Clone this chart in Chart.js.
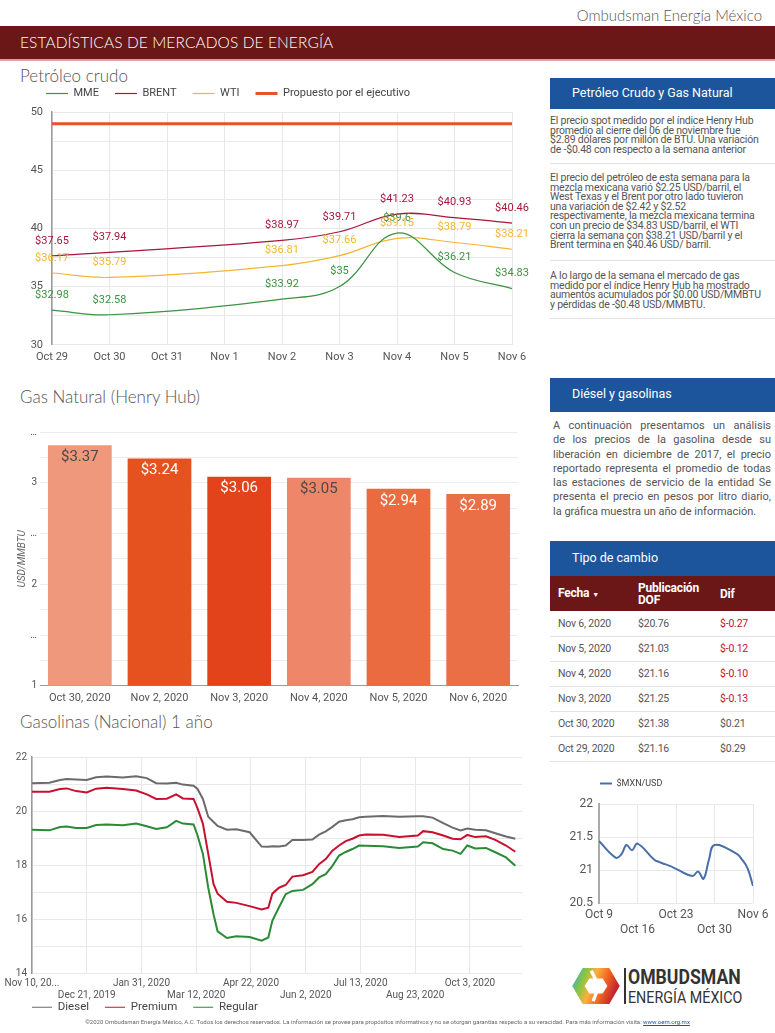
<!DOCTYPE html>
<html lang="es">
<head>
<meta charset="utf-8">
<title>Estadísticas de Mercados de Energía</title>
<script src="https://cdn.jsdelivr.net/npm/chart.js@4.4.1/dist/chart.umd.min.js"></script>
<style>
  * { box-sizing: border-box; }
  body { margin: 0; width: 775px; height: 1033px; position: relative; overflow: hidden; background: #fff; font-family: Roboto, "Noto Sans", sans-serif; color: #444; }
  .abs { position: absolute; }
  .brand { right: 13px; top: 6px; font: 300 15px Lato, "Open Sans", sans-serif; color: #555; white-space: nowrap; }
  .band { left: 0; top: 26px; width: 775px; height: 35px; background: #6b1717; border-bottom: 2px solid #d8a3a3; }
  .band span { position: absolute; left: 20px; top: 7px; color: #fff; font: 300 15.5px Lato, sans-serif; letter-spacing: 0.1px; }
  .section { left: 20px; font: 300 17px/20px Lato, sans-serif; color: #555; white-space: nowrap; }
  .box { left: 550px; width: 225px; background: #1c559b; color: #fff; font-size: 12.5px; line-height: 15px; padding-left: 22px; }
  .note { left: 550px; width: 225px; font-size: 10.5px; line-height: 9.6px; color: #555; white-space: nowrap; letter-spacing: -0.2px; }
  .rule { left: 550px; width: 225px; height: 1px; background: #e3e3e3; }
  .just { left: 553px; width: 218px; font-size: 11px; line-height: 14.3px; color: #555; }
  .just div { text-align: justify; text-align-last: justify; white-space: nowrap; }
  .just div.last { text-align-last: left; }
  table { border-collapse: collapse; }
  .fx { left: 550px; top: 576px; width: 225px; font-size: 10.5px; color: #555; letter-spacing: -0.2px; }
  .fx th { background: #6b1717; color: #fff; text-align: left; font-size: 12px; line-height: 12px; height: 35px; padding: 0 0 0 8px; font-weight: bold; }
  .fx td { height: 25px; padding: 0 0 0 8px; border-bottom: 1px solid #e3e3e3; }
  .fx td.neg { color: #c8102e; }
  .wrap { position: absolute; }
  .logo1 { left: 628px; top: 966px; font: bold 21px/22px Roboto, sans-serif; color: #333; transform: scaleX(0.84); transform-origin: left; white-space: nowrap; }
  .logo2 { left: 628px; top: 988px; font: 17px/18px Roboto, sans-serif; color: #333; transform: scaleX(0.84); transform-origin: left; white-space: nowrap; }
  .footer { left: 0; top: 1018px; width: 775px; text-align: center; font-size: 6px; color: #666; white-space: nowrap; }
  .footer a { color: #1c559b; }
</style>
</head>
<body>

<div class="abs brand">Ombudsman Energía México</div>
<div class="abs band"><span>ESTADÍSTICAS DE MERCADOS DE ENERGÍA</span></div>

<div class="abs section" style="top:66px">Petróleo crudo</div>
<div class="wrap" style="left:12px; top:72px; width:520px; height:298px"><canvas id="crudeChart"></canvas></div>

<div class="abs section" style="top:387px">Gas Natural (Henry Hub)</div>
<div class="wrap" style="left:10px; top:420px; width:515px; height:291px"><canvas id="gasChart"></canvas></div>

<div class="abs section" style="top:712px">Gasolinas (Nacional) 1 año</div>
<div class="wrap" style="left:5px; top:745px; width:525px; height:278px"><canvas id="fuelChart"></canvas></div>

<div class="abs box" style="top:78px; height:31px; padding-top:7px">Petróleo Crudo y Gas Natural</div>
<div class="abs note" style="top:116px">El precio spot medido por el índice Henry Hub<br>promedio al cierre del 06 de noviembre fue<br>$2.89 dólares por millón de BTU. Una variación<br>de -$0.48 con respecto a la semana anterior</div>
<div class="abs rule" style="top:163px"></div>
<div class="abs note" style="top:173px">El precio del petróleo de esta semana para la<br>mezcla mexicana varió $2.25 USD/barril, el<br>West Texas y el Brent por otro lado tuvieron<br>una variación de $2.42 y $2.52<br>respectivamente, la mezcla mexicana termina<br>con un precio de $34.83 USD/barril, el WTI<br>cierra la semana con $38.21 USD/barril y el<br>Brent termina en $40.46 USD/ barril.</div>
<div class="abs rule" style="top:260px"></div>
<div class="abs note" style="top:271px">A lo largo de la semana el mercado de gas<br>medido por el índice Henry Hub ha mostrado<br>aumentos acumulados por $0.00 USD/MMBTU<br>y pérdidas de -$0.48 USD/MMBTU.</div>
<div class="abs rule" style="top:318px"></div>

<div class="abs box" style="top:378px; height:34px; padding-top:8px">Diésel y gasolinas</div>
<div class="abs just" style="top:419px">
  <div>A continuación presentamos un análisis</div>
  <div>de los precios de la gasolina desde su</div>
  <div>liberación en diciembre de 2017, el precio</div>
  <div>reportado representa el promedio de todas</div>
  <div>las estaciones de servicio de la entidad Se</div>
  <div>presenta el precio en pesos por litro diario,</div>
  <div class="last">la gráfica muestra un año de información.</div>
</div>

<div class="abs box" style="top:541px; height:35px; padding-top:9px">Tipo de cambio</div>
<table class="abs fx">
  <tr><th style="width:80px">Fecha <span style="font-size:7px">▼</span></th><th style="width:82px">Publicación<br>DOF</th><th>Dif</th></tr>
  <tr><td>Nov 6, 2020</td><td>$20.76</td><td class="neg">$-0.27</td></tr>
  <tr><td>Nov 5, 2020</td><td>$21.03</td><td class="neg">$-0.12</td></tr>
  <tr><td>Nov 4, 2020</td><td>$21.16</td><td class="neg">$-0.10</td></tr>
  <tr><td>Nov 3, 2020</td><td>$21.25</td><td class="neg">$-0.13</td></tr>
  <tr><td>Oct 30, 2020</td><td>$21.38</td><td>$0.21</td></tr>
  <tr><td>Oct 29, 2020</td><td>$21.16</td><td>$0.29</td></tr>
</table>

<div class="wrap" style="left:560px; top:748px; width:215px; height:194px"><canvas id="fxChart"></canvas></div>

<svg class="abs" style="left:571px; top:967px" width="50" height="38" viewBox="0 0 52 40">
  <defs>
    <linearGradient id="logoGrad" x1="0" y1="0" x2="1" y2="0.3">
      <stop offset="0" stop-color="#29a9e0"/>
      <stop offset="0.3" stop-color="#8cc63f"/>
      <stop offset="0.5" stop-color="#fbb040"/>
      <stop offset="0.75" stop-color="#f26522"/>
      <stop offset="1" stop-color="#c1272d"/>
    </linearGradient>
  </defs>
  <polygon points="12,1 40,1 51,20 40,39 12,39 1,20" fill="url(#logoGrad)"/>
  <polygon points="19,12 33,12 38,20 33,28 19,28 14,20" fill="#fff"/>
  <path d="M21 4 L29 20 L23 36" stroke="#fff" stroke-width="3.5" fill="none"/>
</svg>
<div class="abs" style="left:624px; top:968px; width:2px; height:36px; background:#333"></div>
<div class="abs logo1">OMBUDSMAN</div>
<div class="abs logo2">ENERGÍA MÉXICO</div>

<div class="abs footer">©2020 Ombudsman Energía México, A.C. Todos los derechos reservados. La información se provee para propósitos informativos y no se otorgan garantías respecto a su veracidad. Para más información visita: <a href="#">www.oem.org.mx</a></div>

<script>
Chart.defaults.font.family = "Roboto";
Chart.defaults.color = "#555";
Chart.defaults.animation = false;
Chart.defaults.maintainAspectRatio = false;
Chart.defaults.plugins.tooltip.enabled = false;

// Petróleo crudo, USD/barril (weekend days have no quote)
const crudeLabels = ["Oct 29", "Oct 30", "Oct 31", "Nov 1", "Nov 2", "Nov 3", "Nov 4", "Nov 5", "Nov 6"];
const mmeValues = [32.98, 32.58, null, null, 33.92, 35, 39.6, 36.21, 34.83];
const brentValues = [37.65, 37.94, null, null, 38.97, 39.71, 41.23, 40.93, 40.46];
const wtiValues = [36.17, 35.79, null, null, 36.81, 37.66, 39.15, 38.79, 38.21];
const proposedValues = [49, 49, 49, 49, 49, 49, 49, 49, 49];

// Gas natural Henry Hub, USD/MMBTU
const gasLabels = ["Oct 30, 2020", "Nov 2, 2020", "Nov 3, 2020", "Nov 4, 2020", "Nov 5, 2020", "Nov 6, 2020"];
const gasValues = [3.37, 3.24, 3.06, 3.05, 2.94, 2.89];
const gasColors = ["#f0987c", "#e5521f", "#e2431a", "#ee876a", "#ea6b40", "#eb6f46"];
const gasTextColors = ["#4a4a4a", "#ffffff", "#ffffff", "#4a4a4a", "#ffffff", "#ffffff"];

// Gasolinas nacional, pesos/litro; x = days since Nov 10, 2019
const fuelDays = [0, 13, 21, 26, 33, 41, 48, 56, 68, 78, 86, 93, 101, 108, 113, 121, 124, 128, 132, 136, 139, 146, 153, 163, 172, 177, 180, 185, 190, 195, 203, 210, 215, 220, 225, 230, 235, 240, 245, 250, 263, 275, 289, 293, 300, 308, 315, 321, 326, 332, 340, 347, 355, 362];
const dieselValues = [21.03, 21.05, 21.15, 21.19, 21.17, 21.15, 21.25, 21.28, 21.24, 21.29, 21.22, 21.03, 21.02, 21.05, 20.98, 20.94, 20.82, 20.45, 19.79, 19.6, 19.45, 19.31, 19.33, 19.22, 18.69, 18.68, 18.70, 18.69, 18.73, 18.93, 18.93, 18.95, 19.13, 19.25, 19.42, 19.61, 19.66, 19.70, 19.77, 19.79, 19.82, 19.79, 19.81, 19.81, 19.76, 19.56, 19.39, 19.29, 19.36, 19.31, 19.29, 19.18, 19.06, 18.98];
const premiumValues = [20.72, 20.72, 20.82, 20.84, 20.74, 20.69, 20.83, 20.86, 20.82, 20.76, 20.62, 20.45, 20.46, 20.62, 20.47, 20.45, 20.10, 19.54, 18.42, 17.30, 16.95, 16.65, 16.61, 16.49, 16.37, 16.43, 16.95, 17.17, 17.27, 17.58, 17.63, 17.75, 18.04, 18.23, 18.54, 18.73, 18.89, 18.98, 19.10, 19.14, 19.13, 19.04, 19.10, 19.26, 19.22, 19.10, 18.98, 18.96, 19.12, 19.04, 19.07, 18.94, 18.73, 18.50];
const regularValues = [19.31, 19.29, 19.41, 19.43, 19.38, 19.38, 19.49, 19.51, 19.48, 19.54, 19.44, 19.34, 19.40, 19.64, 19.54, 19.51, 19.10, 18.42, 17.17, 16.18, 15.56, 15.31, 15.38, 15.35, 15.21, 15.33, 15.95, 16.45, 16.93, 17.05, 17.09, 17.30, 17.55, 17.67, 17.98, 18.36, 18.49, 18.60, 18.73, 18.72, 18.70, 18.64, 18.69, 18.85, 18.81, 18.60, 18.54, 18.42, 18.73, 18.62, 18.64, 18.48, 18.29, 17.98];
const fuelTickDays = [0, 41, 82, 123, 164, 205, 246, 287, 328];
const fuelTickLabels = ["Nov 10, 20...", "Dec 21, 2019", "Jan 31, 2020", "Mar 12, 2020", "Apr 22, 2020", "Jun 2, 2020", "Jul 13, 2020", "Aug 23, 2020", "Oct 3, 2020"];

// Tipo de cambio $MXN/USD; x = days since Oct 9, 2020
const fxDays = [0, 3, 4, 5, 6, 7, 10, 11, 12, 13, 14, 17, 18, 19, 20, 21, 25, 26, 27, 28];
const fxValues = [21.44, 21.19, 21.23, 21.38, 21.30, 21.40, 21.16, 21.12, 21.09, 21.06, 21.02, 20.91, 20.98, 20.87, 21.16, 21.38, 21.25, 21.16, 21.03, 20.76];
const fxTickDays = [0, 7, 14, 21, 28];
const fxTickLabels = ["Oct 9", "Oct 16", "Oct 23", "Oct 30", "Nov 6"];

// keep the layout in our hands: no automatic room for overhanging tick labels
const noAutoPad = s => { s.paddingLeft = 0; s.paddingRight = 0; s.paddingTop = 0; s.paddingBottom = 0; };

// a little extra space between a top legend and the plot
const legendGap = {
  id: "legendGap",
  beforeInit(chart, args, opts) {
    if (!chart.legend) return;
    const fit = chart.legend.fit;
    chart.legend.fit = function () {
      fit.call(this);
      this.height += opts.gap || 0;
    };
  }
};

// "$value" labels next to points / inside bars
const valueLabels = {
  id: "valueLabels",
  afterDatasetsDraw(chart, args, opts) {
    const ctx = chart.ctx;
    ctx.save();
    ctx.font = opts.font;
    ctx.textAlign = "center";
    ctx.textBaseline = "middle";
    chart.data.datasets.forEach((ds, i) => {
      if (!ds.valueLabel) return;
      chart.getDatasetMeta(i).data.forEach((el, j) => {
        const v = ds.data[j];
        if (v === null || v === undefined) return;
        const text = "$" + v;
        const w = ctx.measureText(text).width;
        const x = Math.min(el.x, chart.width - w / 2 - 1);
        ctx.fillStyle = ds.labelColors ? ds.labelColors[j] : ds.borderColor;
        ctx.fillText(text, x, el.y + opts.offset);
      });
    });
    ctx.restore();
  }
};

const lineLegend = (width, size, padding) => ({
  usePointStyle: true,
  pointStyle: "line",
  pointStyleWidth: width,
  padding: padding,
  color: "#444",
  font: { size: size }
});

new Chart(document.getElementById("crudeChart"), {
  type: "line",
  data: {
    labels: crudeLabels,
    datasets: [
      { label: "MME", data: mmeValues, borderColor: "#3a9440", borderWidth: 1.2, valueLabel: true },
      { label: "BRENT", data: brentValues, borderColor: "#a8173a", borderWidth: 1.2, valueLabel: true },
      { label: "WTI", data: wtiValues, borderColor: "#f2b631", borderWidth: 1.2, valueLabel: true },
      { label: "Propuesto por el ejecutivo", data: proposedValues, borderColor: "#e8522a", borderWidth: 3, tension: 0 }
    ]
  },
  options: {
    spanGaps: true,
    elements: { point: { radius: 0 }, line: { tension: 0.4 } },
    layout: { padding: { left: 18, right: 20 } },
    plugins: {
      legend: { align: "start", labels: lineLegend(22, 11, 16) },
      legendGap: { gap: 3 },
      valueLabels: { font: "11px Roboto", offset: -15 }
    },
    scales: {
      x: {
        afterFit: noAutoPad,
        grid: { color: "#e8e8e8", drawTicks: false },
        border: { display: false },
        ticks: { padding: 6, font: { size: 11 }, maxRotation: 0 }
      },
      y: {
        min: 30,
        max: 50,
        afterFit: s => { s.width = 22; noAutoPad(s); },
        border: { color: "#9a9a9a", width: 1.5 },
        grid: { color: "#e8e8e8", drawTicks: false },
        ticks: { stepSize: 2.5, padding: 9, font: { size: 11 }, callback: v => (v % 5 === 0 ? v : "") }
      }
    }
  },
  plugins: [legendGap, valueLabels]
});

new Chart(document.getElementById("gasChart"), {
  type: "bar",
  data: {
    labels: gasLabels,
    datasets: [{
      data: gasValues,
      backgroundColor: gasColors,
      labelColors: gasTextColors,
      valueLabel: true,
      barPercentage: 1,
      categoryPercentage: 0.8
    }]
  },
  options: {
    layout: { padding: { top: 12, right: 7 } },
    plugins: {
      legend: { display: false },
      valueLabels: { font: "15px Roboto", offset: 12 }
    },
    scales: {
      x: {
        afterFit: noAutoPad,
        grid: { display: false, drawTicks: false },
        border: { color: "#999" },
        ticks: { padding: 6, font: { size: 11 }, maxRotation: 0 }
      },
      y: {
        min: 1,
        max: 3.5,
        afterFit: s => { s.width = 30; noAutoPad(s); },
        border: { display: false },
        grid: { color: "#ececec", drawTicks: false },
        title: { display: true, text: "USD/MMBTU", color: "#666", font: { size: 10, style: "italic" }, padding: { top: 6, bottom: 0 } },
        ticks: {
          stepSize: 0.25,
          padding: 3,
          font: { size: 10 },
          callback: v => (Number.isInteger(v) ? v : (v % 0.5 === 0 ? "…" : ""))
        }
      }
    }
  },
  plugins: [valueLabels]
});

new Chart(document.getElementById("fuelChart"), {
  type: "line",
  data: {
    datasets: [
      { label: "Diesel", data: fuelDays.map((d, i) => ({ x: d, y: dieselValues[i] })), borderColor: "#6b6b6b" },
      { label: "Premium", data: fuelDays.map((d, i) => ({ x: d, y: premiumValues[i] })), borderColor: "#c8102e" },
      { label: "Regular", data: fuelDays.map((d, i) => ({ x: d, y: regularValues[i] })), borderColor: "#2a8a36" }
    ]
  },
  options: {
    elements: { point: { radius: 0 }, line: { borderWidth: 2, tension: 0 } },
    layout: { padding: { left: 11, right: 8, top: 12 } },
    plugins: {
      legend: { position: "bottom", align: "start", labels: lineLegend(20, 11.5, 16) }
    },
    scales: {
      x: {
        type: "linear",
        min: 0,
        max: 367,
        afterBuildTicks: s => { s.ticks = fuelTickDays.map(v => ({ value: v })); },
        // the two label rows hang over the legend band, so the axis box is kept short and unclipped
        afterFit: s => { s.height = 12; noAutoPad(s); s._computeLabelArea = () => undefined; },
        grid: { color: "#e8e8e8", drawTicks: false },
        border: { display: false },
        ticks: {
          padding: 4,
          maxRotation: 0,
          autoSkip: false,
          font: { size: 10 },
          callback: (v, i) => (i % 2 ? ["", fuelTickLabels[i]] : fuelTickLabels[i])
        }
      },
      y: {
        min: 14,
        max: 22,
        afterFit: s => { s.width = 16; noAutoPad(s); },
        border: { color: "#999", width: 1.5 },
        grid: { color: "#e8e8e8", drawTicks: false },
        ticks: { stepSize: 1, padding: 5, font: { size: 10 }, callback: v => (v % 2 === 0 ? v : "") }
      }
    }
  }
});

new Chart(document.getElementById("fxChart"), {
  type: "line",
  data: {
    datasets: [{
      label: "$MXN/USD",
      data: fxDays.map((d, i) => ({ x: d, y: fxValues[i] })),
      borderColor: "#4a6ea8",
      borderWidth: 2,
      tension: 0.4,
      pointRadius: 0
    }]
  },
  options: {
    layout: { padding: { left: 9, right: 22 } },
    plugins: {
      legend: { align: "start", labels: lineLegend(12, 9, 31) },
      legendGap: { gap: 6 }
    },
    scales: {
      x: {
        type: "linear",
        min: 0,
        max: 28,
        afterBuildTicks: s => { s.ticks = fxTickDays.map(v => ({ value: v })); },
        afterFit: noAutoPad,
        grid: { color: "#e8e8e8", drawTicks: false },
        border: { display: false },
        ticks: {
          padding: 5,
          maxRotation: 0,
          autoSkip: false,
          font: { size: 12 },
          callback: (v, i) => (i % 2 ? ["", fxTickLabels[i]] : fxTickLabels[i])
        }
      },
      y: {
        min: 20.5,
        max: 22,
        afterFit: s => { s.width = 30; noAutoPad(s); },
        border: { color: "#aaa", width: 2 },
        grid: { color: "#e8e8e8", drawTicks: false },
        ticks: { stepSize: 0.25, padding: 6, font: { size: 12 }, callback: v => (v % 0.5 === 0 ? v : "") }
      }
    }
  },
  plugins: [legendGap]
});
</script>
</body>
</html>
